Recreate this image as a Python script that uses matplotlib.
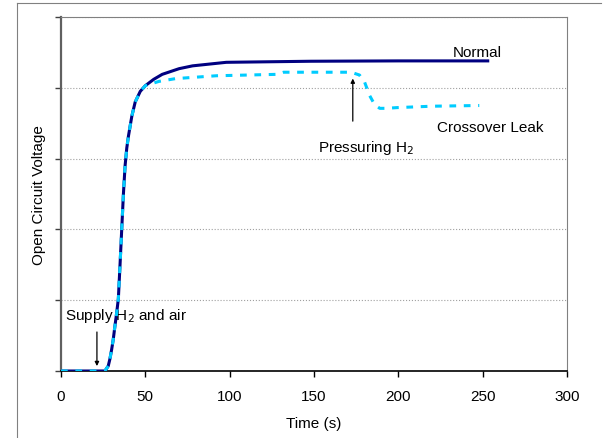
import numpy as np
import matplotlib.pyplot as plt
from matplotlib.lines import Line2D

plt.rcParams['font.family'] = ['Liberation Sans', 'DejaVu Sans']

# Normal start-up curve (time in s, voltage in grid units)
t_normal = [0, 10, 20, 26, 28, 29, 30, 31, 32, 33, 34, 35, 36, 37, 38, 39, 40, 42, 44, 47,
            50, 55, 60, 70, 78, 98, 148, 200, 253]
v_normal = [0, 0, 0, 0, 0.07, 0.17, 0.3, 0.45, 0.64, 0.82, 1.02, 1.5, 2.0, 2.5, 2.9, 3.15,
            3.32, 3.6, 3.8, 3.95, 4.03, 4.12, 4.19, 4.27, 4.31, 4.36, 4.375, 4.38, 4.38]

# Crossover leak curve
t_leak = [0, 10, 20, 26, 28, 29, 30, 31, 32, 33, 34, 35, 36, 37, 38, 39, 40, 42, 44, 47,
          50, 58, 68, 92, 128, 132, 150, 172, 177, 180, 183, 186, 189, 193, 199, 220, 248]
v_leak = [0, 0, 0, 0, 0.07, 0.17, 0.3, 0.45, 0.64, 0.82, 1.02, 1.5, 2.0, 2.5, 2.9, 3.15,
          3.32, 3.6, 3.8, 3.95, 4.03, 4.09, 4.13, 4.17, 4.19, 4.22, 4.22, 4.22, 4.18, 4.08,
          3.89, 3.76, 3.71, 3.71, 3.72, 3.74, 3.75]

fig = plt.figure(figsize=(6.03, 4.39), dpi=100)
ax = fig.add_axes([61/603, 1 - 372/439, (567 - 61)/603, (372 - 18)/439])

ax.plot(t_normal, v_normal, color='#000080', lw=2.2, zorder=3)
ax.plot(t_leak, v_leak, color='#00CCFF', lw=2.2, ls=(0, (2.2, 2.5)), zorder=4)

ax.set_xlim(0, 300)
ax.set_ylim(0, 5)
ax.set_xticks(range(0, 301, 50))
ax.set_yticks(range(0, 6))
ax.set_yticklabels([])
ax.yaxis.grid(True, color='#a0a0a0', ls=':', lw=0.8)
ax.tick_params(axis='both', direction='out', length=4, width=1, colors='black',
               labelsize=11)
ax.tick_params(axis='x', pad=9)
ax.tick_params(axis='y', color='#404040')

for s in ['top', 'right']:
    ax.spines[s].set_color('#808080')
    ax.spines[s].set_linewidth(0.8)
ax.spines['left'].set_color('#606060')
ax.spines['left'].set_linewidth(1.6)
ax.spines['bottom'].set_color('black')
ax.spines['bottom'].set_linewidth(1.2)

ax.set_xlabel('Time (s)', fontsize=11, labelpad=9)
ax.set_ylabel('Open Circuit Voltage', fontsize=11, labelpad=3)

ax.text(246.6, 4.51, 'Normal', fontsize=11, ha='center', va='center')
ax.text(254.3, 3.45, 'Crossover Leak', fontsize=11, ha='center', va='center')
ax.text(180.8, 3.16, 'Pressuring H$_2$', fontsize=11, ha='center', va='center')
ax.text(38.5, 0.79, 'Supply H$_2$ and air', fontsize=11, ha='center', va='center')

ax.annotate('', xy=(173, 4.17), xytext=(173, 3.49),
            arrowprops=dict(arrowstyle='-|>', color='black', lw=0.9,
                            mutation_scale=6))
ax.annotate('', xy=(21.3, 0.03), xytext=(21.3, 0.59),
            arrowprops=dict(arrowstyle='-|>', color='black', lw=0.9,
                            mutation_scale=6))

# outer frame lines
fig.add_artist(Line2D([17/603, 17/603], [0, 1 - 4/439], color='#808080', lw=0.8))
fig.add_artist(Line2D([17/603, 601/603], [1 - 4/439, 1 - 4/439], color='#808080', lw=0.8))

fig.savefig('out.png', dpi=100)
